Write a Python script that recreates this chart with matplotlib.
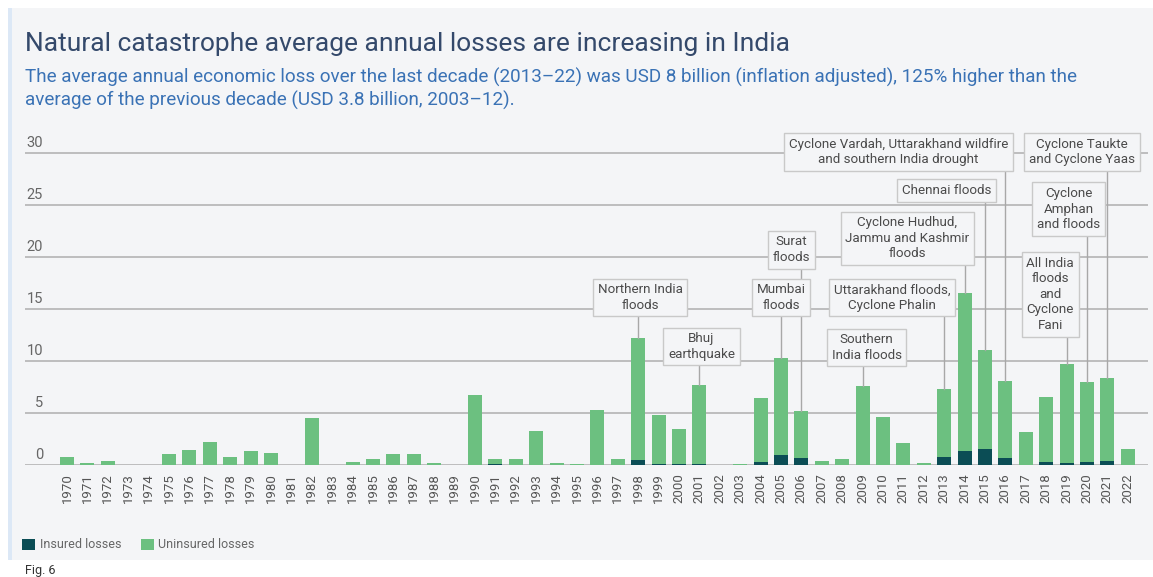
import matplotlib
matplotlib.use("Agg")
import matplotlib.pyplot as plt
from matplotlib.patches import Rectangle
from matplotlib.transforms import blended_transform_factory

# data (USD billion, inflation adjusted)
years = list(range(1970, 2023))
insured = [0, 0, 0, 0, 0, 0, 0, 0, 0, 0,
           0, 0, 0, 0, 0, 0, 0, 0, 0, 0,
           0, 0.1, 0, 0, 0, 0, 0, 0, 0.5, 0.1,
           0.1, 0.1, 0, 0, 0.3, 1.0, 0.65, 0, 0, 0,
           0, 0, 0, 0.8, 1.3, 1.5, 0.65, 0, 0.25, 0.15,
           0.25, 0.35, 0]
uninsured = [0.8, 0.2, 0.35, 0, 0, 1.05, 1.4, 2.2, 0.75, 1.3,
             1.2, 0, 4.55, 0, 0.25, 0.55, 1.05, 1.1, 0.15, 0,
             6.7, 0.5, 0.6, 3.25, 0.2, 0.1, 5.3, 0.55, 11.7, 4.7,
             3.4, 7.6, 0, 0.1, 6.1, 9.3, 4.5, 0.4, 0.6, 7.6,
             4.65, 2.15, 0.2, 6.55, 15.2, 9.6, 7.45, 3.2, 6.3, 9.6,
             7.75, 8.0, 1.5]
yticks = [0, 5, 10, 15, 20, 25, 30]

# annotations: text, event year, box centre (year, value)
ann_text = ["Northern India\nfloods", "Bhuj\nearthquake", "Mumbai\nfloods",
            "Surat\nfloods", "Southern\nIndia floods",
            "Uttarakhand floods,\nCyclone Phalin",
            "Cyclone Hudhud,\nJammu and Kashmir\nfloods", "Chennai floods",
            "Cyclone Vardah, Uttarakhand wildfire\nand southern India drought",
            "All India\nfloods\nand\nCyclone\nFani", "Cyclone\nAmphan\nand floods",
            "Cyclone Taukte\nand Cyclone Yaas"]
ann_year = [1998, 2001, 2005, 2006, 2009, 2013, 2014, 2015, 2016, 2019, 2020, 2021]
ann_box_x = [1998.1, 2001.1, 2005.0, 2005.5, 2009.2, 2010.45, 2011.2, 2013.1,
             2010.75, 2018.2, 2019.1, 2019.75]
ann_box_y = [16.1, 11.4, 16.1, 20.7, 11.3, 16.1, 21.8, 26.4, 30.1, 16.4, 24.6, 30.1]

c_ins = '#0b4d55'
c_unins = '#6cc080'
c_grid = '#b9b9b9'
bg = '#f4f5f7'

plt.rcParams['font.family'] = ['Roboto', 'DejaVu Sans']

W, H = 1153, 577
fig = plt.figure(figsize=(W / 100, H / 100), dpi=100)
fig.patch.set_facecolor('white')
fig.patches.append(Rectangle((10 / W, 1 - 560 / H), 1 - 10 / W, (560 - 8) / H,
                             transform=fig.transFigure, fc=bg, ec='none', zorder=-10))
fig.patches.append(Rectangle((8 / W, 1 - 560 / H), 4 / W, (560 - 8) / H,
                             transform=fig.transFigure, fc='#dce8f6', ec='none', zorder=-9))

ax = fig.add_axes([25 / W, 1 - 465 / H, 1123 / W, 322.4 / H])
ax.set_facecolor('none')
ax.set_xlim(1967.94, 2022.99)
ax.set_ylim(0, 31)

for v in yticks:
    ax.axhline(v, color=c_grid, lw=1.3, zorder=0)
trans = blended_transform_factory(ax.transAxes, ax.transData)
for v in yticks:
    ax.text(0.016, v + 1.0, str(v), transform=trans, ha='right', va='center',
            fontsize=10.5, color='#666666')

b1 = ax.bar(years, insured, width=0.68, color=c_ins, zorder=2)
b2 = ax.bar(years, uninsured, bottom=insured, width=0.68, color=c_unins, zorder=2)

for txt, yr, bx, by in zip(ann_text, ann_year, ann_box_x, ann_box_y):
    top = insured[years.index(yr)] + uninsured[years.index(yr)]
    ax.plot([yr, yr], [by, top], color='#a8a8a8', lw=1, zorder=2.5, clip_on=False)
    ax.text(bx, by, txt, ha='center', va='center', fontsize=9.6, color='#4a4a4a',
            linespacing=1.25, zorder=3, clip_on=False,
            bbox=dict(boxstyle='square,pad=0.35', fc=bg, ec='#c9c9c9', lw=1))

ax.set_xticks(years)
ax.set_xticklabels([str(y) for y in years], rotation=90, fontsize=9.5, color='#555555')
ax.tick_params(axis='x', length=0, pad=6)
ax.set_yticks([])
for s in ax.spines.values():
    s.set_visible(False)

fig.text(25 / W, 1 - 44 / H, "Natural catastrophe average annual losses are increasing in India",
         fontsize=19, color='#34496b', ha='left', va='center')
fig.text(25 / W, 1 - 77 / H, "The average annual economic loss over the last decade (2013\u201322) "
         "was USD 8 billion (inflation adjusted), 125% higher than the",
         fontsize=13.6, color='#3a72b5', ha='left', va='center')
fig.text(25 / W, 1 - 100 / H, "average of the previous decade (USD 3.8 billion, 2003\u201312).",
         fontsize=13.6, color='#3a72b5', ha='left', va='center')

fig.legend([b1, b2], ["Insured losses", "Uninsured losses"], loc='center left',
           bbox_to_anchor=(22 / W, 1 - 545 / H), ncol=2, frameon=False, fontsize=9,
           handlelength=1.0, handleheight=1.0, handletextpad=0.4, columnspacing=1.6,
           borderpad=0, borderaxespad=0, labelcolor='#666666')

fig.text(25 / W, 1 - 564 / H, "Fig. 6", fontsize=9, color='#333333', ha='left', va='top')

fig.savefig('out.png', dpi=100)
